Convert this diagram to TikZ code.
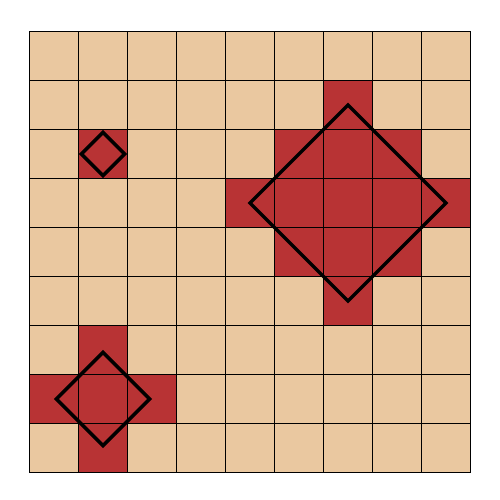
\documentclass[tikz,border=0pt]{standalone}
\definecolor{tan}{HTML}{EAC8A0}
\definecolor{hot}{HTML}{B83334}
\tikzset{
  cellbox/.style={fill=tan,draw=black,line width=1pt},
  hotcell/.style={fill=hot,draw=black,line width=1pt},
  diam/.style={draw=black,line width=3.5pt,line join=miter}
}
\begin{document}
\begin{tikzpicture}[x=1pt,y=-1pt]
\useasboundingbox (0,0) rectangle (500,500);
\begin{scope}[xshift=29.5pt,yshift=-31.5pt,x=49pt,y=-49pt]
  \foreach \i in {0,...,8}{
    \foreach \j in {0,...,8}{
      \draw[cellbox] (\i,\j) rectangle ++(1,1);
    }
  }
  \foreach \i/\j in {6/1, 5/2,6/2,7/2, 4/3,5/3,6/3,7/3,8/3, 5/4,6/4,7/4, 6/5, 1/2, 1/6, 0/7,1/7,2/7, 1/8}{
    \draw[hotcell] (\i,\j) rectangle ++(1,1);
  }
  \draw[diam] (6.5,1.5) -- (8.5,3.5) -- (6.5,5.5) -- (4.5,3.5) -- cycle;
  \draw[diam] (1.5,2.06) -- (1.94,2.5) -- (1.5,2.94) -- (1.06,2.5) -- cycle;
  \draw[diam] (1.5,6.55) -- (2.45,7.5) -- (1.5,8.45) -- (0.55,7.5) -- cycle;
\end{scope}
\end{tikzpicture}
\end{document}
